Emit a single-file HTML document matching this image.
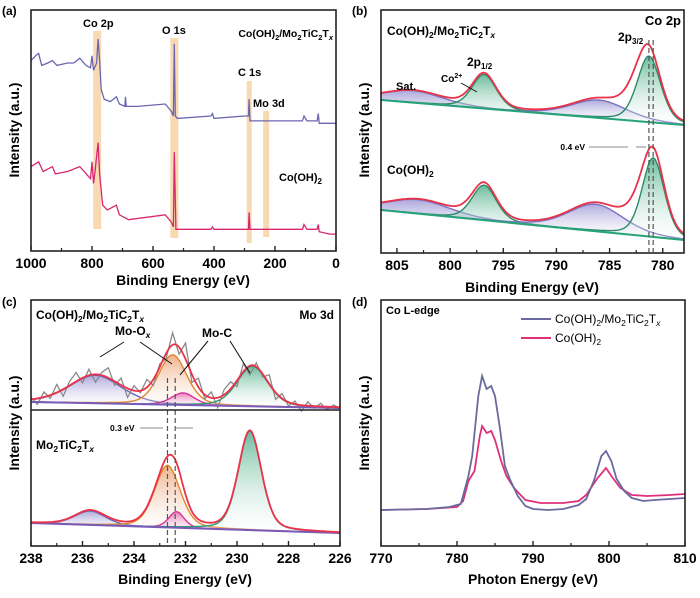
<!DOCTYPE html>
<html><head><meta charset="utf-8"><style>
body{margin:0;background:#fff}
svg{display:block;font-family:"Liberation Sans",sans-serif;font-weight:bold}
</style></head><body>
<svg id="fig" width="700" height="598" viewBox="0 0 700 598">
<defs>
<linearGradient id="gGreen" x1="0" y1="0" x2="0" y2="1"><stop offset="0" stop-color="#3aa57c" stop-opacity="0.75"/><stop offset="1" stop-color="#ffffff" stop-opacity="0.2"/></linearGradient>
<linearGradient id="gPurp" x1="0" y1="0" x2="0" y2="1"><stop offset="0" stop-color="#8a82cc" stop-opacity="0.7"/><stop offset="1" stop-color="#ffffff" stop-opacity="0.2"/></linearGradient>
<linearGradient id="gOrange" x1="0" y1="0" x2="0" y2="1"><stop offset="0" stop-color="#e9905a" stop-opacity="0.7"/><stop offset="1" stop-color="#ffffff" stop-opacity="0.2"/></linearGradient>
<linearGradient id="gPink" x1="0" y1="0" x2="0" y2="1"><stop offset="0" stop-color="#e04ca0" stop-opacity="0.7"/><stop offset="1" stop-color="#ffffff" stop-opacity="0.2"/></linearGradient>
</defs>
<g id="pa"></g>
<g id="pb"></g>
<g id="pc"></g>
<g id="pd"></g>

<rect x="31" y="10" width="305" height="241" fill="none" stroke="#222" stroke-width="1.6"/>
<rect x="381" y="10" width="303" height="243" fill="none" stroke="#222" stroke-width="1.6"/>
<rect x="31" y="300" width="309" height="246" fill="none" stroke="#222" stroke-width="1.6"/>
<line x1="31" y1="410" x2="340" y2="410" stroke="#222" stroke-width="1.6"/>
<rect x="381" y="300" width="304" height="246" fill="none" stroke="#222" stroke-width="1.6"/>

<text x="2" y="15" font-size="12">(a)</text>
<text x="352" y="15" font-size="12">(b)</text>
<text x="2" y="306" font-size="12">(c)</text>
<text x="352" y="306" font-size="12">(d)</text>

<text x="183" y="285" font-size="14" text-anchor="middle">Binding Energy (eV)</text>
<text x="532" y="292" font-size="14" text-anchor="middle">Binding Energy (eV)</text>
<text x="185" y="584" font-size="14" text-anchor="middle">Binding Energy (eV)</text>
<text x="533" y="584" font-size="14" text-anchor="middle">Photon Energy (eV)</text>
<text transform="translate(19,130) rotate(-90)" font-size="14" text-anchor="middle">Intensity (a.u.)</text>
<text transform="translate(369,130) rotate(-90)" font-size="14" text-anchor="middle">Intensity (a.u.)</text>
<text transform="translate(19,423) rotate(-90)" font-size="14" text-anchor="middle">Intensity (a.u.)</text>
<text transform="translate(369,423) rotate(-90)" font-size="14" text-anchor="middle">Intensity (a.u.)</text>

<text x="83" y="27" font-size="11">Co 2p</text>
<text x="162" y="34" font-size="11">O 1s</text>
<text x="238" y="76" font-size="11">C 1s</text>
<text x="253" y="107" font-size="11">Mo 3d</text>
<text x="333" y="37" font-size="10.5" text-anchor="end">Co(OH)<tspan font-size="7.5" dy="3">2</tspan><tspan dy="-3">/Mo</tspan><tspan font-size="7.5" dy="3">2</tspan><tspan dy="-3">TiC</tspan><tspan font-size="7.5" dy="3">2</tspan><tspan dy="-3">T</tspan><tspan font-size="7.5" dy="3" font-style="italic">x</tspan></text>
<text x="279" y="181" font-size="11">Co(OH)<tspan font-size="8" dy="3">2</tspan></text>

<text x="387" y="35" font-size="12">Co(OH)<tspan font-size="8.5" dy="3">2</tspan><tspan dy="-3">/Mo</tspan><tspan font-size="8.5" dy="3">2</tspan><tspan dy="-3">TiC</tspan><tspan font-size="8.5" dy="3">2</tspan><tspan dy="-3">T</tspan><tspan font-size="8.5" dy="3" font-style="italic">x</tspan></text>
<text x="681" y="25" font-size="13" text-anchor="end">Co 2p</text>
<text x="618" y="41" font-size="12">2p<tspan font-size="8" dy="3">3/2</tspan></text>
<text x="467" y="66" font-size="12">2p<tspan font-size="8" dy="3">1/2</tspan></text>
<text x="441" y="82" font-size="10">Co<tspan font-size="7" dy="-4">2+</tspan></text>
<line x1="461" y1="83" x2="477" y2="92" stroke="#111" stroke-width="1"/>
<text x="396" y="90" font-size="11">Sat.</text>
<text x="387" y="174" font-size="12">Co(OH)<tspan font-size="8.5" dy="3">2</tspan></text>
<text x="585" y="150" font-size="8.5" text-anchor="end">0.4 eV</text>
<line x1="589" y1="147" x2="628" y2="147" stroke="#666" stroke-width="0.8"/>
<line x1="636" y1="147" x2="646" y2="147" stroke="#666" stroke-width="0.8"/>

<text x="36" y="319" font-size="12">Co(OH)<tspan font-size="8.5" dy="3">2</tspan><tspan dy="-3">/Mo</tspan><tspan font-size="8.5" dy="3">2</tspan><tspan dy="-3">TiC</tspan><tspan font-size="8.5" dy="3">2</tspan><tspan dy="-3">T</tspan><tspan font-size="8.5" dy="3" font-style="italic">x</tspan></text>
<text x="334" y="319" font-size="12" text-anchor="end">Mo 3d</text>
<text x="115" y="335" font-size="12">Mo-O<tspan font-size="8.5" dy="3" font-style="italic">x</tspan></text>
<text x="202" y="337" font-size="12">Mo-C</text>
<line x1="124" y1="342" x2="100" y2="357" stroke="#111" stroke-width="1"/>
<line x1="140" y1="342" x2="172" y2="364" stroke="#111" stroke-width="1"/>
<line x1="208" y1="341" x2="180" y2="375" stroke="#111" stroke-width="1"/>
<line x1="230" y1="341" x2="250" y2="373" stroke="#111" stroke-width="1"/>
<text x="36" y="449" font-size="12">Mo<tspan font-size="8.5" dy="3">2</tspan><tspan dy="-3">TiC</tspan><tspan font-size="8.5" dy="3">2</tspan><tspan dy="-3">T</tspan><tspan font-size="8.5" dy="3" font-style="italic">x</tspan></text>
<text x="110" y="431" font-size="8.5">0.3 eV</text>
<line x1="140" y1="428" x2="163" y2="428" stroke="#666" stroke-width="0.8"/>
<line x1="176" y1="428" x2="193" y2="428" stroke="#666" stroke-width="0.8"/>

<text x="386" y="314" font-size="11">Co L-edge</text>
<line x1="521" y1="319" x2="551" y2="319" stroke="#6a6a9e" stroke-width="2"/>
<text x="555" y="323" font-size="12" font-weight="normal">Co(OH)<tspan font-size="8.5" dy="3">2</tspan><tspan dy="-3">/Mo</tspan><tspan font-size="8.5" dy="3">2</tspan><tspan dy="-3">TiC</tspan><tspan font-size="8.5" dy="3">2</tspan><tspan dy="-3">T</tspan><tspan font-size="8.5" dy="3" font-style="italic">x</tspan></text>
<line x1="521" y1="338" x2="551" y2="338" stroke="#e0307a" stroke-width="2"/>
<text x="555" y="342" font-size="12" font-weight="normal">Co(OH)<tspan font-size="8.5" dy="3">2</tspan></text>
</svg>
<script>
const surveyTopE = [1000,985,975,965,945,930,915,880,860,840,820,805,800,795,785,780,775,770,760,740,720,710,692,690,688,650,560,540,533,530,527,520,410,405,400,300,287,285,282,110,105,95,62,58,55,20,0];
const surveyTopI = [79,81,82,77,78,79,77,78,78,80,77,76,81,75,78,88,79,67,63,62,64,61,60,64,60,60,61,58,56,86,56,55,56,57,55,56,56,63,54,54,56,54,54,57,53,53,53];
const surveyBotE = [1000,975,960,930,920,880,840,805,800,795,790,780,775,765,750,720,710,680,560,540,533,530,525,410,405,400,300,287,285,282,110,105,95,62,58,55,20,0];
const surveyBotI = [35,37,33,35,32,33,35,30,37,28,33,45,32,19,17,19,15,13,15,12,10,41,9,9,10,9,9,9,16,9,9,11,9,9,11,8,7,7];
const bandCenters = [783,530,284.5,229];
const axATicks = [1000,800,600,400,200,0];

const coTopPeaks = [[803.5,12,2.8],[796.8,34,1.15],[786,18,2.6],[781.3,66,1.1]];
const coTopExtra = [[782.6,13,1.2]];
const coBotPeaks = [[803,14,3],[796.8,35,1.15],[786.3,27,2.6],[780.9,79,1.05]];
const coBotExtra = [[782.3,13,1.2]];
const coTopBase = [153,128];
const coBotBase = [43,13];
const coShiftLines = [781.3,780.9];
const axBTicks = [805,800,795,790,785,780];

const moTopPeaks = [[235.5,28,1.0],[232.5,50,0.55],[232.1,12,0.45],[229.4,40,0.6]];
const moBotPeaks = [[235.7,14,0.6],[232.7,62,0.5],[232.35,16,0.3],[229.5,99,0.45]];
const moTopBase = [144,138];
const moBotBase = [23,13];
const moNoise = [2,-6,5,-3,8,-7,4,9,-5,6,-8,3,10,-4,7,-9,5,-2,8,-6,3,-5,12,-7,16,-8,9,-4,6,-10,5,7,-6,8,-9,4,-3,9,-7,5,-4,3,-6,4,-2,3,-3,2,-1];
const moShiftLines = [232.7,232.4];
const axCTicks = [238,236,234,232,230,228,226];

const xasE1 = [770,776,779,780.5,781.5,782,782.8,783.3,783.9,784.5,785,785.6,786.3,787,788,789,790,792,794,796,797,798,799,799.6,800.3,801,802,803,804.5,806,808,810];
const xasI1 = [36,37,39,42,70,90,150,170,157,160,150,120,80,66,50,40,37,36,37,41,47,65,90,95,85,67,55,48,45,46,47,48];
const xasE2 = [770,776,780,780.8,781.5,782.3,783,783.3,783.9,784.5,785,785.8,786.5,787.5,789,791,794,796,797,798.5,799.6,800.5,801.5,803,805,808,810];
const xasI2 = [36,37,39,45,65,75,110,120,113,115,106,85,70,58,46,43,43,45,51,68,78,68,58,51,50,51,52];
const axDTicks = [770,780,790,800,810];

const NS='http://www.w3.org/2000/svg';
function mk(parent,tag,attrs){const e=document.createElementNS(NS,tag);for(const k in attrs)e.setAttribute(k,attrs[k]);parent.appendChild(e);return e;}
function pv(x,p){const d=x-p[0];const g=Math.exp(-d*d/(2*p[2]*p[2]));const l=1/(1+d*d/(1.4*p[2]*p[2]));return p[1]*(0.7*g+0.3*l);}
function pathFrom(xs,ys){return xs.map((x,i)=>(i?'L':'M')+x.toFixed(1)+' '+ys[i].toFixed(1)).join(' ');}
function ticks(g,xs,lo,hi,yBot,yTop,majors,minors,name){
  minors.forEach(v=>{const x=xs(v);const t=mk(g,'line',{x1:x,x2:x,y1:yBot,y2:yBot-3,stroke:'#222','stroke-width':1.2});
    
    });
  majors.forEach(v=>{const x=xs(v);const t=mk(g,'line',{x1:x,x2:x,y1:yBot,y2:yBot-5,stroke:'#222','stroke-width':1.4});
    
    
    const l=mk(g,'text',{x:x,y:yBot+17,'font-size':14,'text-anchor':'middle'});l.textContent=v;
    
    });
}

const ga=document.getElementById('pa');
const xA=e=>31+(1000-e)/1000*305, yA=v=>251-v*2.41;
const bandW=[8,8,5,6];
const bandTop=[31,38,81,111], bandBot=[229,238,243,237];
bandCenters.forEach((c,i)=>{const r=mk(ga,'rect',{x:xA(c)-bandW[i]/2,y:bandTop[i],width:bandW[i],height:bandBot[i]-bandTop[i],fill:'#f8cf9f',opacity:0.8});
  
  });
let p=mk(ga,'path',{d:pathFrom(surveyTopE.map(xA),surveyTopI.map(yA)),fill:'none',stroke:'#6a66b0','stroke-width':1.3});


p=mk(ga,'path',{d:pathFrom(surveyBotE.map(xA),surveyBotI.map(yA)),fill:'none',stroke:'#d6286e','stroke-width':1.3});


ticks(ga,xA,1000,0,251,10,axATicks,[900,700,500,300,100],'panel-a-x');

const gb=document.getElementById('pb');
const xB=e=>381+(806.5-e)/28.5*303, yB=v=>253-v;
function drawFit(g,xs,ys,lo,hi,peaks,extra,base,fills,strokes,name,noise){
  const N=240, es=[];for(let i=0;i<=N;i++)es.push(lo+(hi-lo)*i/N);
  const bl=e=>base[0]+(base[1]-base[0])*(e-lo)/(hi-lo);
  peaks.forEach((pk,k)=>{
    const top=es.map(e=>ys(bl(e)+pv(e,pk)));
    const d=pathFrom(es.map(xs),top);
    const f=mk(g,'path',{d:d+' L'+xs(hi)+' '+ys(bl(hi))+' L'+xs(lo)+' '+ys(bl(lo))+' Z',fill:fills[k],stroke:'none'});
    
    
    const s=mk(g,'path',{d:d,fill:'none',stroke:strokes[k],'stroke-width':1.4});
    
    
  });
  const env=es.map(e=>bl(e)+peaks.concat(extra).reduce((a,pk)=>a+pv(e,pk),0));
  if(noise){
    const ne=[],ni=[];noise.forEach((n,i)=>{const e=lo+(hi-lo)*i/(noise.length-1);ne.push(xs(e));ni.push(ys(bl(e)+peaks.reduce((a,pk)=>a+pv(e,pk),0)+n));});
    const r=mk(g,'path',{d:pathFrom(ne,ni),fill:'none',stroke:'#8a8a8a','stroke-width':1.3});
    
    
  }
  const b=mk(g,'path',{d:pathFrom([xs(lo),xs(hi)],[ys(bl(lo)),ys(bl(hi))]),fill:'none',stroke:strokes.base,'stroke-width':2});
  
  
  const ev=mk(g,'path',{d:pathFrom(es.map(xs),env.map(ys)),fill:'none',stroke:'#e8334a','stroke-width':1.8});
  
  
}
const bFills=['url(#gPurp)','url(#gGreen)','url(#gPurp)','url(#gGreen)'];
const bStrokes=['#7a72c0','#2d8a68','#7a72c0','#2d8a68'];bStrokes.base='#27a37a';
drawFit(gb,xB,yB,806.5,778,coTopPeaks,coTopExtra,coTopBase,bFills,bStrokes,'co2p-composite');
drawFit(gb,xB,yB,806.5,778,coBotPeaks,coBotExtra,coBotBase,bFills,bStrokes,'co2p-cooh2');
coShiftLines.forEach(e=>{const l=mk(gb,'line',{x1:xB(e),x2:xB(e),y1:40,y2:252,stroke:'#555','stroke-width':1.2,'stroke-dasharray':'5,3'});
  
  });
ticks(gb,xB,806.5,778,253,10,axBTicks,[802.5,797.5,792.5,787.5,782.5],'panel-b-x');

const gc=document.getElementById('pc');
const xC=e=>31+(238-e)*25.75, yC=v=>546-v;
const cFills=['url(#gPurp)','url(#gOrange)','url(#gPink)','url(#gGreen)'];
const cStrokes=['#6b63b5','#e0872a','#d8339a','#2d9a6e'];cStrokes.base='#7a5ab8';
drawFit(gc,xC,yC,238,226,moTopPeaks,[],moTopBase,cFills,cStrokes,'mo3d-composite',moNoise);
drawFit(gc,xC,yC,238,226,moBotPeaks,[],moBotBase,cFills,cStrokes,'mo3d-mxene');
moShiftLines.forEach(e=>{const l=mk(gc,'line',{x1:xC(e),x2:xC(e),y1:378,y2:546,stroke:'#555','stroke-width':1.2,'stroke-dasharray':'5,3'});
  
  });
ticks(gc,xC,238,226,546,300,axCTicks,[237,235,233,231,229,227],'panel-c-x');

const gd=document.getElementById('pd');
const xD=e=>381+(e-770)*7.6, yD=v=>546-v;
p=mk(gd,'path',{d:pathFrom(xasE2.map(xD),xasI2.map(yD)),fill:'none',stroke:'#e0307a','stroke-width':1.8});


p=mk(gd,'path',{d:pathFrom(xasE1.map(xD),xasI1.map(yD)),fill:'none',stroke:'#6a6a9e','stroke-width':1.8});


ticks(gd,xD,770,810,546,300,axDTicks,[775,785,795,805],'panel-d-x');
</script>
</body></html>
